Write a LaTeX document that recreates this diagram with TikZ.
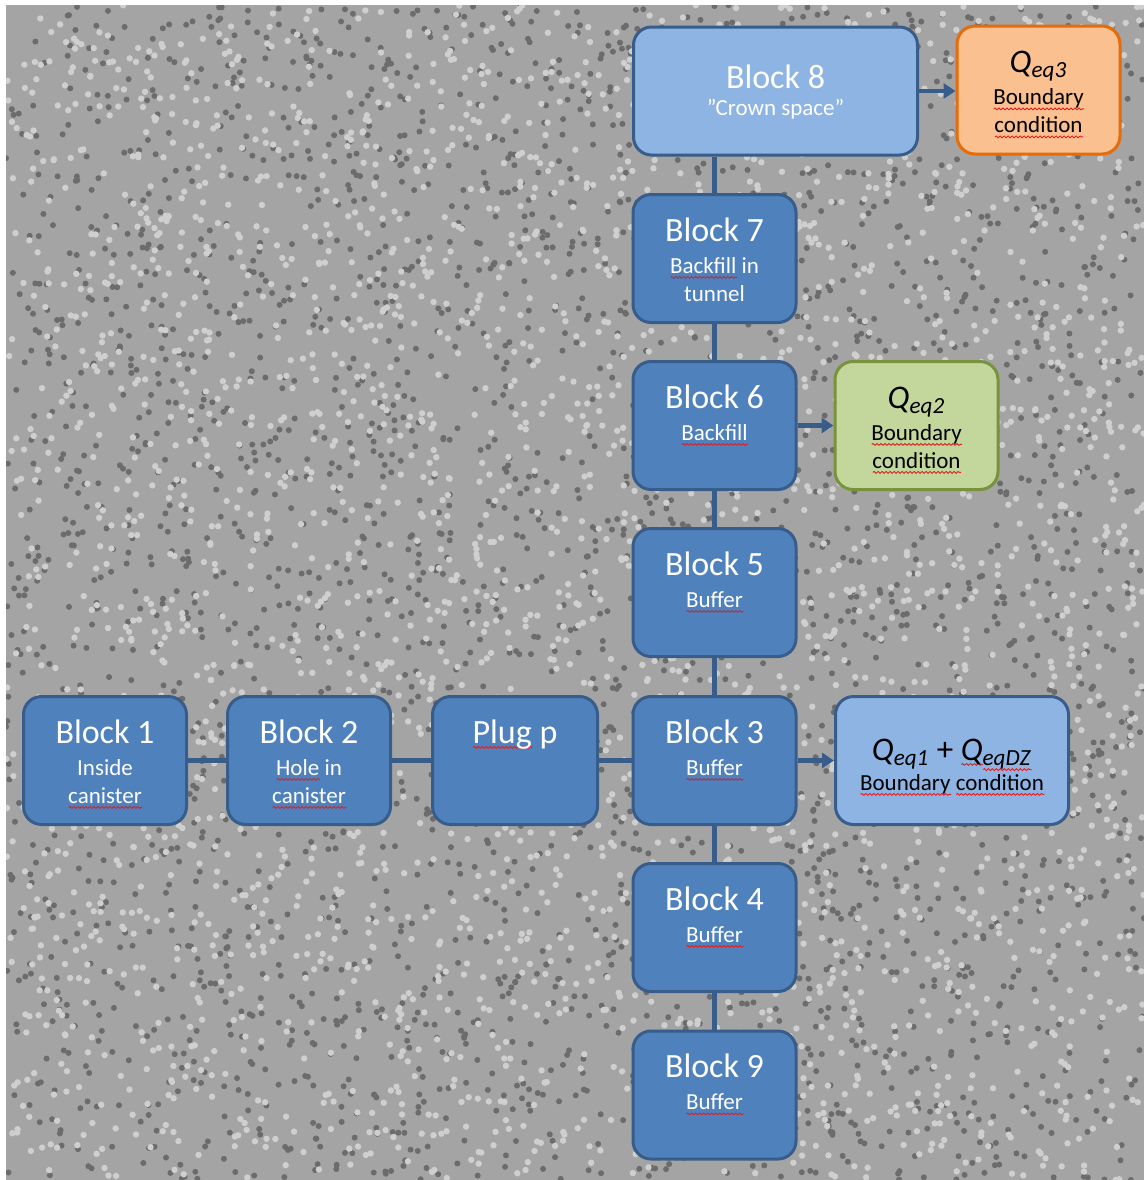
\documentclass[tikz,border=0pt]{standalone}
\usepackage{fontspec}
\setmainfont{Carlito}
\usetikzlibrary{arrows.meta,decorations.pathmorphing}
\definecolor{bgray}{HTML}{A4A4A4}
\definecolor{bdark}{HTML}{6C6C6C}
\definecolor{blight}{HTML}{CFCFCF}
\definecolor{dblue}{HTML}{4F81BD}
\definecolor{bline}{HTML}{385D8A}
\definecolor{lblue}{HTML}{8EB4E3}
\definecolor{ofill}{HTML}{FAC090}
\definecolor{oline}{HTML}{E46C0A}
\definecolor{gfill}{HTML}{C3D69B}
\definecolor{gline}{HTML}{77933C}
\definecolor{wred}{HTML}{E02020}
\newsavebox\sqbox
\newcommand\sqw[1]{\sbox\sqbox{#1}\makebox[0pt][l]{\tikz[baseline=0pt]\draw[wred,line width=0.45pt,decorate,decoration={snake,amplitude=0.45pt,segment length=2pt}] (0pt,-2.2pt) -- (\wd\sqbox,-2.2pt);}\usebox\sqbox}
\tikzset{
  box/.style={rounded corners=9pt, line width=1.5pt, minimum width=81.5pt, minimum height=64pt, inner sep=0pt},
  blk/.style={box, fill=dblue, draw=bline},
  ttl/.style={font=\fontsize{17}{20}\selectfont, text=white, anchor=base, inner sep=0pt},
  sub/.style={font=\fontsize{11.5}{14}\selectfont, text=white, anchor=base, inner sep=0pt},
  qtxt/.style={font=\fontsize{16.5}{19}\selectfont, text=black, anchor=base, inner sep=0pt},
  bsub/.style={sub, text=black},
  conn/.style={draw=bline, line width=2.5pt},
  arr/.style={draw=bline, line width=2.2pt, -{Triangle[width=7.5pt,length=6pt]}},
}
\begin{document}
\begin{tikzpicture}[x=0.5pt, y=-0.5pt]
\useasboundingbox (0,0) rectangle (1144,1180);
\fill[white] (0,0) rectangle (1144,1180);
\fill[bgray] (6,5) rectangle (1144,1180);
\begin{scope}
\clip (6,5) rectangle (1144,1180);
\pgfmathsetseed{7}
\foreach \i in {1,...,3000}{\fill[bdark] (6+1138*rnd, 5+1175*rnd) circle[radius=1.5pt];}
\foreach \i in {1,...,3000}{\fill[blight] (6+1138*rnd, 5+1175*rnd) circle[radius=1.6pt];}
\end{scope}

% Block 8
\node[box, fill=lblue, draw=bline, minimum width=142pt] (b8) at (775.5,91) {};
\node[ttl] (b8t) at ([yshift=-31.5pt]b8.north) {Block 8};
\node[sub] (b8a) at ([yshift=-45pt]b8.north) {”Crown space”};
% Qeq3
\node[box, fill=ofill, draw=oline] (q3) at (1038.5,90) {};
\node[qtxt] (q3t) at ([yshift=-24pt]q3.north) {\textit{Q}\textsubscript{\textit{eq3}}};
\node[bsub] (q3a) at ([yshift=-40pt]q3.north) {\sqw{Boundary}};
\node[bsub] (q3b) at ([yshift=-54pt]q3.north) {\sqw{condition}};
% Block 7
\node[blk] (b7) at (714.5,258.5) {};
\node[ttl] (b7t) at ([yshift=-24pt]b7.north) {Block 7};
\node[sub] (b7a) at ([yshift=-40pt]b7.north) {\sqw{Backfill} in};
\node[sub] (b7b) at ([yshift=-54pt]b7.north) {tunnel};
% Block 6
\node[blk] (b6) at (714.5,425.5) {};
\node[ttl] (b6t) at ([yshift=-24pt]b6.north) {Block 6};
\node[sub] (b6a) at ([yshift=-40pt]b6.north) {\sqw{Backfill}};
% Qeq2
\node[box, fill=gfill, draw=gline] (q2) at (916.5,425.5) {};
\node[qtxt] (q2t) at ([yshift=-24pt]q2.north) {\textit{Q}\textsubscript{\textit{eq2}}};
\node[bsub] (q2a) at ([yshift=-40pt]q2.north) {\sqw{Boundary}};
\node[bsub] (q2b) at ([yshift=-54pt]q2.north) {\sqw{condition}};
% Block 5
\node[blk] (b5) at (714.5,592.5) {};
\node[ttl] (b5t) at ([yshift=-24pt]b5.north) {Block 5};
\node[sub] (b5a) at ([yshift=-40pt]b5.north) {\sqw{Buffer}};
% Block 3
\node[blk] (b3) at (714.5,760.5) {};
\node[ttl] (b3t) at ([yshift=-24pt]b3.north) {Block 3};
\node[sub] (b3a) at ([yshift=-40pt]b3.north) {\sqw{Buffer}};
% Q box
\node[box, fill=lblue, draw=bline, minimum width=116.5pt] (qb) at (952,760.5) {};
\node[qtxt] (qbt) at ([yshift=-32.5pt]qb.north) {\textit{Q}\textsubscript{\textit{eq1}} + \sqw{\textit{Q}}\textsubscript{\sqw{\textit{eqDZ}}}};
\node[bsub] (qba) at ([yshift=-47.5pt]qb.north) {\sqw{Boundary} \sqw{condition}};
% Block 4
\node[blk] (b4) at (714.5,927.5) {};
\node[ttl] (b4t) at ([yshift=-24pt]b4.north) {Block 4};
\node[sub] (b4a) at ([yshift=-40pt]b4.north) {\sqw{Buffer}};
% Block 9
\node[blk] (b9) at (714.5,1095) {};
\node[ttl] (b9t) at ([yshift=-24pt]b9.north) {Block 9};
\node[sub] (b9a) at ([yshift=-40pt]b9.north) {\sqw{Buffer}};
% Block 1
\node[blk] (b1) at (105,760.5) {};
\node[ttl] (b1t) at ([yshift=-24pt]b1.north) {Block 1};
\node[sub] (b1a) at ([yshift=-40pt]b1.north) {Inside};
\node[sub] (b1b) at ([yshift=-54pt]b1.north) {\sqw{canister}};
% Block 2
\node[blk] (b2) at (309,760.5) {};
\node[ttl] (b2t) at ([yshift=-24pt]b2.north) {Block 2};
\node[sub] (b2a) at ([yshift=-40pt]b2.north) {\sqw{Hole} in};
\node[sub] (b2b) at ([yshift=-54pt]b2.north) {\sqw{canister}};
% Plug p
\node[blk, minimum width=82.5pt] (bp) at (515,760.5) {};
\node[ttl] (bpt) at ([yshift=-24pt]bp.north) {\sqw{Plug} p};

% connectors
\draw[conn] (b8.south -| b7.north) -- (b7.north);
\draw[conn] (b7.south) -- (b6.north);
\draw[conn] (b6.south) -- (b5.north);
\draw[conn] (b5.south) -- (b3.north);
\draw[conn] (b3.south) -- (b4.north);
\draw[conn] (b4.south) -- (b9.north);
\draw[conn] (b1.east) -- (b2.west);
\draw[conn] (b2.east) -- (bp.west);
\draw[conn] (bp.east) -- (b3.west);
\draw[arr] (b8.east) -- (b8.east -| q3.west);
\draw[arr] (b6.east) -- (q2.west);
\draw[arr] (b3.east) -- (qb.west);
\end{tikzpicture}
\end{document}
